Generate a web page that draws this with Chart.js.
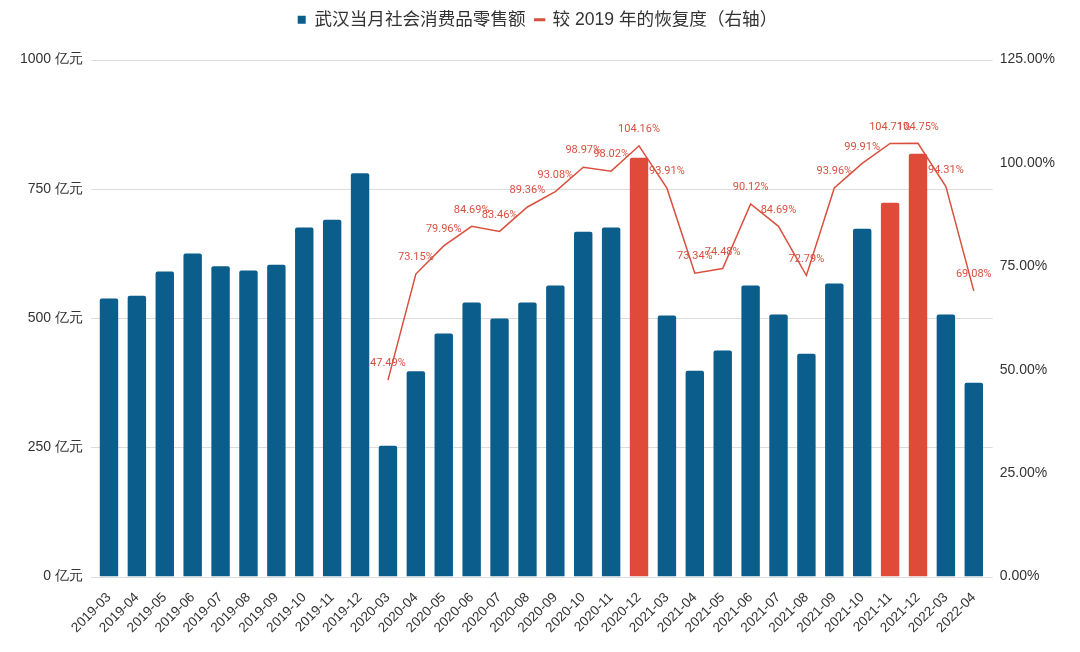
<!DOCTYPE html>
<html><head><meta charset="utf-8">
<script src="https://cdn.jsdelivr.net/npm/chart.js@4/dist/chart.umd.min.js"></script>
<style>html,body{margin:0;padding:0;background:#fff}#wrap{width:1080px;height:652px}</style>
</head><body><div id="wrap"><canvas id="c" width="1080" height="652"></canvas></div>
<script>
const categories = ["2019-03","2019-04","2019-05","2019-06","2019-07","2019-08","2019-09","2019-10","2019-11","2019-12",
"2020-03","2020-04","2020-05","2020-06","2020-07","2020-08","2020-09","2020-10","2020-11","2020-12",
"2021-03","2021-04","2021-05","2021-06","2021-07","2021-08","2021-09","2021-10","2021-11","2021-12",
"2022-03","2022-04"];
const salesValues = [538,543,590,625,600,592,603,675,690,780,
253,397,470,530,499,530,563,667,675,810,
505,398,437,563,507,431,567,673,723,818,
507,375];
const recoveryValues = [null,null,null,null,null,null,null,null,null,null,
47.49,73.15,79.96,84.69,83.46,89.36,93.08,98.97,98.02,104.16,
93.91,73.34,74.48,90.12,84.69,72.79,93.96,99.91,104.71,104.75,
94.31,69.08];
const highlightMonths = ["2020-12","2021-11","2021-12"];
const leftTicks = [0,250,500,750,1000];
const rightTicks = [0,25,50,75,100,125];
const seriesNames = ["武汉当月社会消费品零售额","较 2019 年的恢复度（右轴）"];

const BLUE = "#0b5d8c", RED = "#e04a39", LINE = "#d9503f";
const barColors = categories.map(c => highlightMonths.includes(c) ? RED : BLUE);

const labelPlugin = {
  id: 'lineLabels',
  afterDatasetsDraw(chart) {
    const ctx = chart.ctx;
    const meta = chart.getDatasetMeta(1);
    ctx.save();
    ctx.font = "11px Roboto";
    ctx.fillStyle = LINE;
    ctx.textAlign = "center";
    ctx.textBaseline = "bottom";
    meta.data.forEach((pt, i) => {
      const v = recoveryValues[i];
      if (v == null) return;
      ctx.fillText(v.toFixed(2) + "%", pt.x, pt.y - 11);
    });
    ctx.restore();
  }
};

const gridPlugin = {
  id: 'wideGrid',
  beforeDatasetsDraw(chart) {
    const ctx = chart.ctx, a = chart.chartArea, ys = chart.scales.y;
    ctx.save();
    ctx.strokeStyle = '#dcdcdc';
    ctx.lineWidth = 1;
    leftTicks.forEach(v => {
      const y = Math.round(ys.getPixelForValue(v)) + 0.5;
      ctx.beginPath();
      ctx.moveTo(a.left - 4, y);
      ctx.lineTo(a.right + 5, y);
      ctx.stroke();
    });
    ctx.restore();
  }
};

new Chart(document.getElementById('c'), {
  data: {
    labels: categories,
    datasets: [
      { type: 'bar', label: seriesNames[0], data: salesValues, backgroundColor: barColors,
        yAxisID: 'y', barPercentage: 0.66, categoryPercentage: 1.0, order: 2,
        borderRadius: {topLeft: 2, topRight: 2} },
      { type: 'line', label: seriesNames[1], data: recoveryValues, borderColor: LINE, backgroundColor: LINE,
        borderWidth: 1.5, pointRadius: 0, tension: 0, yAxisID: 'y1', order: 1, spanGaps: false }
    ]
  },
  options: {
    responsive: false, animation: false,
    layout: { padding: { left: 8, right: 13, top: 1, bottom: 11 } },
    plugins: {
      legend: { position: 'top', labels: {
        font: { family: "'Liberation Sans', 'Noto Sans CJK SC'", size: 17.6 }, color: '#333',
        usePointStyle: true, boxWidth: 8, boxHeight: 8, padding: 10,
        generateLabels(chart) {
          return [
            { text: seriesNames[0], fillStyle: BLUE, strokeStyle: BLUE, pointStyle: 'rect', lineWidth: 0, datasetIndex: 0, fontColor: '#333' },
            { text: seriesNames[1], fillStyle: LINE, strokeStyle: LINE, pointStyle: 'line', lineWidth: 3, datasetIndex: 1, fontColor: '#333' }
          ];
        }
      } },
      tooltip: { enabled: false }
    },
    scales: {
      x: { grid: { display: false }, border: { display: false },
        ticks: { autoSkip: false, maxRotation: 45, minRotation: 45, color: '#333', padding: 5,
          font: { family: "'Liberation Sans'", size: 13.5 } } },
      y: { position: 'left', min: 0, max: 1000,
        afterBuildTicks(s) { s.ticks = leftTicks.map(v => ({ value: v })); },
        grid: { display: false, drawTicks: false }, border: { display: false },
        ticks: { padding: 12, color: '#333', font: { family: "'Liberation Sans'", size: 14 },
          callback: v => v + ' 亿元' } },
      y1: { position: 'right', min: 0, max: 125,
        afterBuildTicks(s) { s.ticks = rightTicks.map(v => ({ value: v })); },
        grid: { display: false, drawTicks: false }, border: { display: false },
        ticks: { padding: 12, color: '#333', font: { family: "'Liberation Sans'", size: 14 },
          callback: v => v.toFixed(2) + '%' } }
    }
  },
  plugins: [gridPlugin, labelPlugin, {
    id: 'legendGap',
    afterInit(chart) {
      const lg = chart.legend;
      const fit = lg.fit;
      lg.fit = function() { fit.bind(lg)(); this.height += 21; };
    }
  }]
});
</script></body></html>
